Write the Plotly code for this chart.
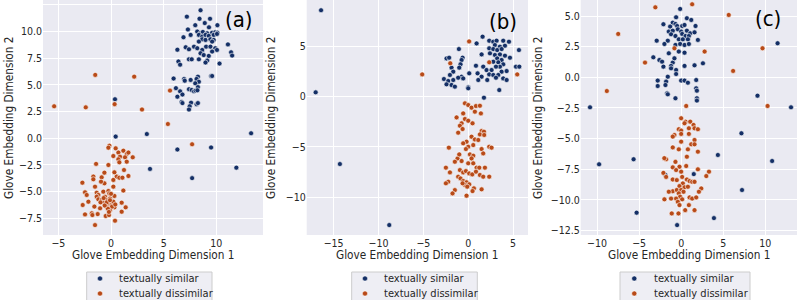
import plotly.graph_objects as go

# ---------------- data ----------------
# Panel (a)
a_sim_x = [8.5, 7.2, 8.4, 9.4, 8.9, 8.0, 10.1, 9.3, 7.3, 8.19, 8.5, 8.72, 9.13, 9.6, 9.9, 10.1, 8.34, 8.66,
           8.97, 9.28, 9.75, 10.06, 7.56, 6.88, 8.66, 8.97, 9.44, 9.75, 8.34, 9.6, 11.1, 6.3, 7.09, 7.4, 7.88,
           8.19, 8.66, 9.03, 9.44, 9.9, 10.06, 9.6, 8.5, 8.8, 9.28, 11.4, 11.5, 6.4, 6.56, 7.4, 7.66, 8.34,
           9.13, 8.97, 10.3, 5.94, 6.94, 7.0, 7.56, 8.25, 8.12, 9.5, 9.6, 8.34, 8.0, 6.16, 6.56, 7.4, 7.66,
           7.88, 8.03, 8.25, 8.2, 6.3, 6.78, 6.7, 6.78, 7.6, 7.47, 7.4, 8.12, 8.25,
           0.375, 0.44, 3.4, 13.3, 6.3, 9.5, 11.9, 3.7, 7.7]
a_sim_y = [12.0, 11.4, 11.2, 11.2, 10.8, 10.6, 10.6, 10.4, 10.2, 10.0, 9.84, 9.97, 9.84, 9.9, 9.94, 9.9, 9.69,
           9.53, 9.69, 9.6, 9.69, 9.78, 9.69, 9.47, 9.28, 9.22, 9.28, 9.22, 9.06, 9.06, 8.8, 8.3, 8.53, 8.34,
           8.59, 8.44, 8.28, 8.59, 8.59, 8.44, 8.28, 8.13, 7.97, 7.8, 7.72, 8.06, 7.75, 7.2, 6.9, 7.4, 7.4,
           7.4, 7.28, 7.1, 7.0, 5.6, 5.56, 5.4, 5.47, 5.78, 5.56, 5.84, 5.84, 5.3, 5.15, 4.7, 4.4, 4.6, 4.53,
           4.4, 4.47, 4.8, 4.5, 3.9, 4.1, 3.4, 3.3, 3.34, 3.0, 2.7, 3.2, 3.3,
           3.66, 0.16, 0.4, 0.47, -1.05, -0.86, -2.75, -2.87, -3.73]
a_dis_x = [-5.4, -2.4, -1.5, 2.2, 0.34, 2.94, 5.6, 5.4, 7.7,
           -0.16, -0.25, 0.44, 1.17, 1.49, 0.7, 0.22, 0.85, 1.65, 2.06, 1.33, 0.7, 0.79, 1.49, -1.42, -0.25,
           1.23, 0.32, -0.63, 1.65, 0.54, -1.68, -1.68, -0.89, 0.22, 0.79, 1.08, -0.63, -0.95, -2.72, -1.52,
           0.22, 1.17, -2.47, -2.31, -1.36, -1.2, -0.73, -0.25, -0.16, -0.57, -1.36, -1.2, -0.89, -0.41,
           -0.09, 0.32, -2.15, -0.73, -0.25, 0.06, 0.22, -2.69, -1.58, -1.04, -0.41, -0.09, 0.32, 1.01, 1.39,
           -1.83, -1.27, -0.51, -0.19, -2.47, -1.77, 1.01, 0.38, -1.52,
           -0.7, -0.4, -0.1, 0.1, -0.3, 0.4, -1.0, -0.6, 0.0, -0.2]
a_dis_y = [3.0, 2.9, 5.94, 5.78, 3.2, 2.7, 4.47, 1.34, -0.56,
           -0.69, -0.88, -0.94, -1.16, -1.47, -1.34, -1.66, -1.72, -1.34, -1.78, -1.78, -1.97, -2.25, -2.19,
           -2.4, -2.5, -2.97, -3.19, -3.22, -3.53, -3.59, -3.59, -3.84, -3.66, -3.9, -3.69, -3.69, -4.22,
           -4.06, -4.16, -4.53, -4.53, -4.9, -5.06, -5.31, -5.1, -5.31, -5.0, -4.94, -5.16, -5.47, -5.47,
           -5.72, -5.78, -5.78, -5.63, -5.4, -5.94, -6.03, -6.16, -6.25, -5.94, -6.25, -6.4, -6.56, -6.47,
           -6.72, -6.47, -6.03, -6.47, -7.03, -7.1, -7.28, -7.19, -7.13, -7.19, -6.88, -7.72, -8.13,
           -5.6, -6.0, -5.8, -6.4, -6.6, -6.2, -6.0, -6.3, -5.2, -6.9]

# Panel (b)
b_sim_x = [-16.4, -17.0, -14.3, -8.8,
           1.6, 2.34, 2.79, 3.16, 3.9, 4.54, 0.93, 2.97, 3.53, 4.09, 2.34, 2.79, 3.23, 3.72, 5.65, -1.04, 1.49,
           2.42, 2.97, 3.53, 4.09, 4.65, -0.63, -0.74, -2.42, -2.13, 3.23, 3.72, 3.35, 2.79, 0.86, 1.67, 3.9,
           3.53, 3.09, -0.86, -1.0, -1.86, -1.67, 5.32, 5.69, 2.04, 2.6, 3.72, 4.28, 1.04, 0.11, 2.34, 2.79,
           3.35, 3.09, 3.9, 4.28, 1.49, -0.74, -0.56, -1.12, -2.04, -2.71, -2.23, -1.67, 1.12, 2.12, -2.42,
           -1.86, -1.49, 0.0, 3.46, 1.75, 0.0]
b_sim_y = [8.6, 0.43, -6.7, -12.77,
           5.97, 5.57, 5.47, 5.57, 5.57, 5.47, 5.3, 5.14, 4.98, 5.07, 4.81, 4.74, 4.64, 4.74, 4.64, 4.74, 4.21,
           4.31, 4.15, 4.21, 4.08, 3.88, 3.88, 3.65, 3.81, 3.88, 3.81, 3.65, 3.42, 3.48, 3.08, 2.99, 3.22,
           2.99, 2.99, 3.22, 2.89, 2.89, 2.49, 2.99, 2.99, 2.65, 2.65, 2.49, 2.55, 2.32, 2.32, 2.22, 2.16,
           2.16, 1.89, 1.82, 1.66, 1.99, 1.99, 1.82, 1.89, 2.16, 1.76, 1.56, 1.66, 1.66, 1.66, 1.23,
           1.16, 1.0, 0.93, 0.66, -0.1, 0.83]
b_dis_x = [-5.13, 0.1, -2.0, 2.34, 5.46,
           -0.37, 0.0, 0.37, 0.86, 1.3, 0.74, -0.56, 1.41, -1.3, -0.37, 0.0, 0.48, -0.74, -0.93, -0.63, -1.12,
           1.49, 1.75, 1.3, 1.78, 0.37, 0.74, 1.12, -0.19, -0.56, 0.0, 0.56, 1.49, 2.34, 2.6, -2.16, -0.26,
           -1.19, -1.0, 0.19, 0.56, 0.37, 1.67, -1.49, -0.74, 0.0, 0.56, 0.93, 1.23, 1.86, -2.49, -2.04,
           -0.93, -0.56, -0.26, 0.11, 0.45, 0.86, 1.3, 1.67, 2.34, -1.12, -0.86, -0.56, -0.19, 0.11, -0.37,
           -0.63, -0.11, -2.23, -2.49, 0.63, 0.48, 1.49, -1.49, -1.75, -0.19]
b_dis_y = [2.22, 5.5, 3.32, 3.42, 2.22,
           -0.66, -0.83, -1.09, -0.93, -0.9, -1.49, -1.66, -1.66, -2.06, -2.22, -2.39, -2.65, -2.65, -2.89,
           -3.22, -3.58, -3.42, -3.48, -3.75, -3.81, -3.98, -4.25, -4.31, -4.48, -4.64, -4.98, -4.81, -5.21,
           -4.98, -5.07, -5.07, -5.21, -6.14, -5.74, -5.74, -5.87, -6.14, -5.64, -6.47, -6.4, -6.63, -6.63,
           -7.06, -7.06, -7.06, -7.06, -7.53, -7.3, -7.53, -7.4, -7.63, -7.73, -7.46, -7.79, -7.96, -7.96,
           -7.96, -8.13, -8.39, -8.52, -8.72, -8.79, -8.62, -8.95, -8.46, -8.62, -9.12, -9.39, -9.22, -9.29,
           -9.62, -9.85]

# Panel (c)
c_sim_x = [11.47, -10.84, 9.08, 13.07, 7.17, -5.66, -9.76, 4.37, 10.82, 7.24, -5.3, 3.9, -0.48, -1.87, 1.5,
           -0.12, -0.6, 0.68, 1.2, -2.11, -1.0, -0.68, -1.31, -0.48, 0.12, 0.4, 1.71, -1.47, -1.0, -0.4, 0.0,
           0.68, 1.08, 1.59, -1.2, -0.68, 0.12, 0.52, 0.92, -2.91, -1.59, -0.28, 0.2, 0.8, 1.99, -1.99, -0.68,
           -0.12, 0.4, 0.92, -1.47, -0.28, 0.4, -3.31, -2.59, -2.27, -1.0, -0.8, -2.11, -1.2, -1.2, -0.6,
           0.4, 1.59, 2.59, -0.6, -1.59, -2.79, -1.79, -2.79, -1.87, 0.0, 0.4, 0.8, 1.79, 1.79, 1.87, -1.67,
           -1.59, -0.68, 1.87, 1.87]
c_sim_y = [2.78, -2.45, -1.5, -2.45, -4.57, -6.69, -7.1, -6.34, -6.83, -9.2, -11.05, -11.49, -12.06, -7.97, -7.9,
           5.58, 4.9, 4.82, 4.68, 4.33, 4.46, 4.35, 4.14, 4.19, 4.19, 4.27, 4.19, 3.73, 3.81, 3.92, 3.73,
           3.81, 3.59, 3.67, 3.51, 3.37, 3.54, 3.37, 3.37, 2.99, 2.99, 3.1, 3.1, 3.1, 3.05, 2.72, 2.64,
           2.72, 2.64, 2.72, 1.96, 2.1, 2.01, 1.63, 1.41, 1.28, 1.2, 1.55, 0.87, 0.93, 0.73, 0.6,
           0.93, 0.98, 1.14, 0.27, 0.05, -0.27, -0.35, -0.71, -0.63, -0.27, -0.27, -0.44, -0.22, -0.9, -1.09,
           -1.31, -1.39, -1.71, -1.71, -1.9]
c_dis_x = [-3.07, 1.31, 5.66, -7.49, 9.68, 2.79, -4.3, 6.18, -8.84, 10.28, 0.6, -0.8,
           0.0, 0.52, 1.08, 1.47, -0.28, 0.0, 0.4, 0.92, 1.59, 1.99, -0.8, -1.0, 0.0, 0.92, 0.0, 1.59, 1.2,
           1.59, -1.0, -0.28, 0.8, 1.99, -1.79, 0.68, -0.68, -1.0, -0.2, 0.6, 1.99, 3.31, 2.99, -2.11, -1.79,
           -0.6, 0.0, -1.0, -0.52, 0.12, 0.68, 1.0, 1.31, 1.59, 0.2, -0.2, 0.4, 0.8, -1.0, -0.52, -1.47, 0.0,
           0.28, -0.28, -0.12, 0.12, -0.6, 2.39, 2.11, -1.2, -1.99, 1.0, 1.31, 1.79, 0.92, -0.4, -0.2, 0.48,
           1.59, -1.12, -0.32, -2.0]
c_dis_y = [5.71, 5.96, 5.09, 3.54, 2.37, 2.1, 1.2, 0.52, -1.12, -2.34, -2.34, 2.37,
           -3.34, -3.62, -3.62, -3.89, -4.24, -4.35, -3.75, -4.16, -4.16, -4.24, -4.71, -4.84, -4.62, -4.62,
           -5.25, -5.12, -5.47, -5.47, -5.72, -5.88, -5.88, -6.07, -6.69, -6.48, -6.9, -7.35, -7.3, -7.24,
           -7.51, -7.7, -8.06, -7.8, -8.13, -7.57, -7.7, -8.34, -8.39, -8.13, -8.34, -8.47, -8.53, -8.53,
           -8.66, -8.88, -8.98, -8.93, -9.3, -9.2, -9.34, -9.2, -9.34, -9.47, -9.74, -9.96, -9.9, -9.07,
           -9.34, -9.9, -9.96, -9.8, -9.9, -9.8, -10.43, -10.16, -10.43, -10.84, -10.84, -11.11, -11.11, -6.6]

panel_labels = ["(a)", "(b)", "(c)"]
series_names = ["textually similar", "textually dissimilar"]
x_title = "Glove Embedding Dimension 1"
y_title = "Glove Embedding Dimension 2"

# ---------------- style ----------------
BLUE = "#142f66"
ORANGE = "#b84a18"
BG = "#EAEAF2"
FONT = "DejaVu Sans Condensed, Liberation Sans, sans-serif"
TXT = "#262626"
W, H = 800, 300

def px(x):
    return x / W

def py(y):
    return 1 - y / H

panels = [
    dict(sx=a_sim_x, sy=a_sim_y, dx=a_dis_x, dy=a_dis_y, dom=[43, 263],
         xr=[-6.46, 14.43], yr=[-9.06, 12.96], xt=[-5, 0, 5, 10], yt=[-7.5, -5, -2.5, 0, 2.5, 5, 7.5, 10, 12.5],
         ytf=".1f", ytitle_x=9, lab=(239, 19), leg=(86.7, 212, 100, 117)),
    dict(sx=b_sim_x, sy=b_sim_y, dx=b_dis_x, dy=b_dis_y, dom=[306.7, 528],
         xr=[-18.0, 6.66], yr=[-13.76, 9.62], xt=[-15, -10, -5, 0, 5], yt=[-10, -5, 0, 5], ytf="d",
         ytitle_x=271, lab=(503, 21), leg=(351.7, 477.3, 365, 382.3)),
    dict(sx=c_sim_x, sy=c_sim_y, dx=c_dis_x, dy=c_dis_y, dom=[580.7, 797],
         xr=[-11.95, 13.78], yr=[-12.87, 6.31], xt=[-10, -5, 0, 5, 10], yt=[-12.5, -10, -7.5, -5, -2.5, 0, 2.5, 5],
         ytf=".1f", ytitle_x=538, lab=(768, 18), leg=(620, 750, 634.3, 651.7)),
]

PLOT_TOP, PLOT_BOTTOM = 0, 235

fig = go.Figure()
layout = dict(
    width=W, height=H, paper_bgcolor="white", plot_bgcolor=BG,
    margin=dict(l=0, r=0, t=0, b=0, autoexpand=False), font=dict(family=FONT, color=TXT, size=10),
    showlegend=False, annotations=[], shapes=[],
)
for i, p in enumerate(panels):
    k = "" if i == 0 else str(i + 1)
    for name, xs, ys, col in [(series_names[0], p["sx"], p["sy"], BLUE),
                              (series_names[1], p["dx"], p["dy"], ORANGE)]:
        fig.add_trace(go.Scatter(
            x=xs, y=ys, mode="markers", name=name, xaxis="x" + k, yaxis="y" + k,
            marker=dict(color=col, size=5, line=dict(color="white", width=0.6)),
        ))
    layout["xaxis" + k] = dict(
        domain=[px(p["dom"][0]), px(p["dom"][1])], range=p["xr"], anchor="y" + k, tickvals=p["xt"],
        ticktext=[("\u2212" if v < 0 else "") + str(abs(v)) for v in p["xt"]],
        showgrid=True, gridcolor="white", gridwidth=1, zeroline=False, showline=False, ticks="",
        tickfont=dict(size=10.5), automargin=False,
    )
    fmt = (lambda v: f"{abs(v):.1f}") if p["ytf"] == ".1f" else (lambda v: f"{abs(int(v))}")
    layout["yaxis" + k] = dict(
        domain=[py(PLOT_BOTTOM), py(PLOT_TOP)], range=p["yr"], anchor="x" + k, tickvals=p["yt"],
        ticktext=[("\u2212" if v < 0 else "") + fmt(v) for v in p["yt"]],
        showgrid=True, gridcolor="white", gridwidth=1, zeroline=False, showline=False, ticks="",
        tickfont=dict(size=10.5), automargin=False,
    )
    # axis titles
    cx = (p["dom"][0] + p["dom"][1]) / 2
    layout["annotations"].append(dict(
        text=x_title, xref="paper", yref="paper", x=px(cx), y=py(255), xanchor="center", yanchor="middle",
        showarrow=False, font=dict(size=11.7, family=FONT, color=TXT),
    ))
    layout["annotations"].append(dict(
        text=y_title, xref="paper", yref="paper", x=px(p["ytitle_x"]), y=py(118), xanchor="center",
        yanchor="middle", textangle=-90, showarrow=False, font=dict(size=11.7, family=FONT, color=TXT),
    ))
    # panel label
    layout["annotations"].append(dict(
        text=panel_labels[i], xref="paper", yref="paper", x=px(p["lab"][0]), y=py(p["lab"][1]),
        xanchor="center", yanchor="middle", showarrow=False,
        font=dict(size=22, family=FONT, color="black"),
    ))
    # legend box (drawn)
    lx0, lx1, mx, tx = p["leg"]
    layout["shapes"].append(dict(
        type="rect", xref="paper", yref="paper", x0=px(lx0), x1=px(lx1), y0=py(310), y1=py(272),
        fillcolor="#EEEEF4", line=dict(color="#CCCCCC", width=1), layer="above",
    ))
    for j, (name, col) in enumerate([(series_names[0], BLUE), (series_names[1], ORANGE)]):
        yy = 278.5 + 15 * j
        layout["shapes"].append(dict(
            type="circle", xref="paper", yref="paper", xsizemode="pixel", ysizemode="pixel",
            xanchor=px(mx), yanchor=py(yy), x0=-2.6, x1=2.6, y0=-2.6, y1=2.6,
            fillcolor=col, line=dict(color="white", width=0.6), layer="above",
        ))
        layout["annotations"].append(dict(
            text=name, xref="paper", yref="paper", x=px(tx), y=py(yy), xanchor="left", yanchor="middle",
            showarrow=False, font=dict(size=11, family=FONT, color=TXT),
        ))

fig.update_layout(**layout)
fig.write_html("out.html", config={"displayModeBar": False},
               post_script="document.body.style.margin='0';document.body.style.overflow='hidden';")
